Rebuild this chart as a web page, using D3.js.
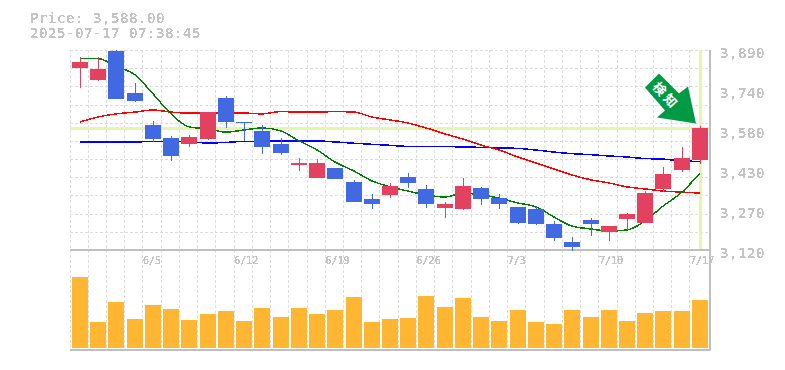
<!DOCTYPE html>
<html>
<head>
<meta charset="utf-8">
<script src="https://cdn.jsdelivr.net/npm/d3@7"></script>
<style>
  html, body { margin: 0; padding: 0; background: #fff; }
  svg { display: block; }
  text { font-family: "DejaVu Sans Mono", monospace; }
</style>
</head>
<body>
<div id="chart"></div>
<script>
const dates = ["5/30","6/2","6/3","6/4","6/5","6/6","6/9","6/10","6/11","6/12","6/13","6/16","6/17","6/18","6/19","6/20","6/23","6/24","6/25","6/26","6/27","6/30","7/1","7/2","7/3","7/4","7/7","7/8","7/9","7/10","7/11","7/14","7/15","7/16","7/17"];
const dateTicks = ["6/5","6/12","6/19","6/26","7/3","7/10","7/17"];
const priceTicks = [3890,3736,3582,3428,3274,3120];

const open  = [3821,3775,3886,3724,3601,3551,3528,3547,3705,3613,3578,3528,3447,3397,3436,3382,3316,3332,3401,3355,3282,3278,3359,3320,3286,3278,3220,3151,3236,3189,3239,3224,3355,3428,3467];
const close = [3844,3817,3701,3694,3547,3482,3555,3651,3613,3609,3517,3493,3455,3455,3393,3305,3297,3366,3378,3297,3297,3366,3316,3297,3224,3220,3166,3132,3220,3212,3259,3339,3413,3474,3588];
const high  = [3863,3863,3890,3763,3617,3559,3563,3651,3713,3613,3601,3551,3474,3470,3436,3390,3336,3378,3416,3370,3305,3397,3363,3336,3286,3289,3232,3170,3243,3212,3262,3347,3440,3517,3597];
const low   = [3744,3771,3701,3690,3536,3463,3517,3544,3590,3540,3490,3486,3424,3397,3393,3305,3278,3320,3359,3282,3243,3274,3293,3278,3220,3216,3155,3116,3174,3155,3197,3228,3343,3420,3451];
const volume = [71,26,46,29,43,39,28,34,37,27,40,31,40,34,38,51,26,29,30,52,41,50,31,27,38,26,24,38,31,38,27,35,37,37,48];

const maShort = [3858,3857,3828,3794,3721,3644,3594,3586,3574,3582,3590,3578,3540,3505,3459,3424,3386,3363,3347,3332,3324,3339,3332,3320,3301,3286,3247,3212,3201,3193,3197,3232,3289,3343,3416];
const maMid   = [3613,3632,3644,3651,3659,3651,3647,3647,3647,3647,3644,3653,3651,3651,3653,3651,3632,3621,3609,3590,3567,3547,3524,3505,3478,3455,3432,3409,3390,3378,3363,3355,3347,3343,3339];
const maLong  = [3536,3536,3536,3536,3538,3538,3536,3532,3534,3538,3538,3540,3540,3540,3536,3531,3527,3523,3519,3519,3518,3517,3515,3513,3511,3505,3497,3491,3487,3482,3478,3472,3470,3463,3461];

const lastPrice = 3588;
const priceLabel = "Price: 3,588.00";
const stampLabel = "2025-07-17 07:38:45";

const width = 785, height = 370;
const margin = { left: 70, right: 708.2, top: 50, mid: 250, bottom: 350 };

const x = d3.scaleBand().domain(dates).range([margin.left, margin.right]);
const y = d3.scaleLinear().domain([3120, 3890]).range([margin.mid, margin.top]);
const yVol = d3.scaleLinear().domain([0, 100]).range([348, 248]);

const barLeft = (d) => Math.round(x(d) + 2);
const barMid = (d) => barLeft(d) + 8;

const svg = d3.select("#chart").append("svg")
  .attr("width", width).attr("height", height);

// hard threshold on alpha, the source has bitmap looking text
const defs = svg.append("defs");
const filter = defs.append("filter").attr("id", "hard")
  .attr("x", 0).attr("y", 0).attr("width", 1).attr("height", 1);
filter.append("feComponentTransfer").append("feFuncA")
  .attr("type", "discrete").attr("tableValues", "0 1 1 1");

const gridColor = "#dcdcdc", axisColor = "#bfbfbf", textColor = "#c4c4c4";
const grid = svg.append("g").attr("shape-rendering", "crispEdges")
  .attr("stroke", gridColor).attr("stroke-dasharray", "3,2");

const gridCols = dates.map((d) => Math.floor(x(d)) + 0.5);
grid.selectAll(".v").data(gridCols).join("line").attr("class", "v")
  .attr("x1", (d) => d).attr("x2", (d) => d)
  .attr("y1", margin.top).attr("y2", margin.bottom);

const gridRows = d3.range(0, 11).map((i) => y.invert(margin.top + i * (200 / 11)));
grid.selectAll(".h").data(gridRows).join("line").attr("class", "h")
  .attr("x1", margin.left).attr("x2", 710)
  .attr("y1", (d) => Math.round(y(d)) + 0.5).attr("y2", (d) => Math.round(y(d)) + 0.5);

// crosshair
const crossColor = "#e4f6a8";
svg.append("rect").attr("x", barMid("7/17") - 1).attr("y", margin.top)
  .attr("width", 3).attr("height", 199).attr("fill", crossColor);
svg.append("rect").attr("x", margin.left).attr("y", Math.round(y(lastPrice)) - 1)
  .attr("width", 640).attr("height", 3).attr("fill", crossColor);

// frame
const frame = svg.append("g").attr("stroke", axisColor).attr("stroke-width", 2)
  .attr("shape-rendering", "crispEdges");
frame.append("line").attr("x1", margin.left).attr("x2", 711).attr("y1", margin.mid).attr("y2", margin.mid);
frame.append("line").attr("x1", margin.left).attr("x2", 711).attr("y1", margin.bottom).attr("y2", margin.bottom);
frame.append("line").attr("x1", 710).attr("x2", 710).attr("y1", margin.top).attr("y2", margin.bottom + 1);

// volume
svg.append("g").attr("shape-rendering", "crispEdges")
  .selectAll("rect").data(dates).join("rect")
  .attr("x", barLeft)
  .attr("y", (d, i) => yVol(volume[i]))
  .attr("width", 16)
  .attr("height", (d, i) => yVol(0) - yVol(volume[i]))
  .attr("fill", "#ffb733");

// moving averages sit under the candles
const line = d3.line().curve(d3.curveMonotoneX).x((d, i) => barMid(dates[i])).y((d) => y(d));
[[maLong, "#0000ff"], [maMid, "#ff0000"], [maShort, "#008000"]].forEach(([series, color]) => {
  svg.append("path").attr("d", line(series)).attr("fill", "none")
    .attr("stroke", color).attr("stroke-width", 1.5)
    .attr("shape-rendering", "crispEdges");
});

// candles
const upColor = "#e2425f", downColor = "#4169e1";
const candles = svg.append("g").attr("shape-rendering", "crispEdges")
  .selectAll("g").data(dates).join("g")
  .attr("fill", (d, i) => (close[i] >= open[i] ? upColor : downColor));
candles.append("rect")
  .attr("x", barMid)
  .attr("y", (d, i) => Math.round(y(high[i])))
  .attr("width", 1)
  .attr("height", (d, i) => Math.round(y(low[i])) - Math.round(y(high[i])));
candles.append("rect")
  .attr("x", barLeft)
  .attr("y", (d, i) => Math.round(y(Math.max(open[i], close[i]))))
  .attr("width", 16)
  .attr("height", (d, i) => Math.max(1, Math.round(y(Math.min(open[i], close[i]))) - Math.round(y(Math.max(open[i], close[i])))));

// signal arrow, tip just above the last candle
const arrow = svg.append("g")
  .attr("transform", `translate(${barMid("7/17") - 4},${y(lastPrice) - 5})`);
arrow.append("polygon")
  .attr("points", "0,0 -39,-6 -31,-13 -51,-36 -37,-50 -17,-30 -8,-37")
  .attr("fill", "#009a44");
arrow.append("text").attr("transform", "translate(-29.5,-28) rotate(48)")
  .attr("text-anchor", "middle").attr("dominant-baseline", "central")
  .style("font-family", '"Noto Sans CJK JP"').style("font-weight", 700).style("font-size", "13px")
  .style("letter-spacing", "3px")
  .attr("fill", "#fff").text("検知");

// text
const textGroup = svg.append("g").attr("filter", "url(#hard)").attr("fill", textColor);
textGroup.append("text").attr("x", 30).attr("y", 23)
  .style("font-size", "14px").style("letter-spacing", "0.57px").text(priceLabel);
textGroup.append("text").attr("x", 30).attr("y", 38)
  .style("font-size", "14px").style("letter-spacing", "0.57px").text(stampLabel);

const yAxis = d3.axisRight(y).tickValues(priceTicks).tickSize(0).tickPadding(0)
  .tickFormat((d) => d3.format(",")(Math.round(d / 10) * 10));
const yAxisG = textGroup.append("g").attr("transform", "translate(720,0)").call(yAxis);
yAxisG.select(".domain").remove();
yAxisG.selectAll("text").attr("fill", textColor).attr("dy", "7")
  .style("font-size", "14px").style("letter-spacing", "0.57px")
  .style("font-family", '"DejaVu Sans Mono", monospace');

const xAxis = d3.axisBottom(x).tickValues(dateTicks).tickSize(0).tickPadding(0);
const xAxisG = textGroup.append("g").attr("transform", "translate(0,258)").call(xAxis);
xAxisG.select(".domain").remove();
xAxisG.selectAll("text").attr("fill", textColor).attr("text-anchor", "start")
  .attr("x", -9).attr("dy", "0.6em").style("font-size", "10px")
  .style("font-family", '"DejaVu Sans Mono", monospace');
</script>
</body>
</html>
